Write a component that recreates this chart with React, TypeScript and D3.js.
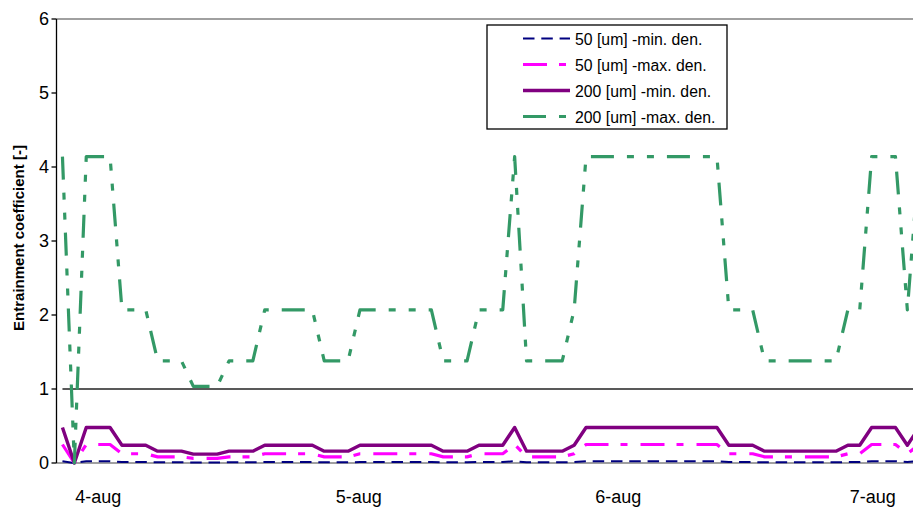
import React from "react";
import * as d3 from "d3";

// Hourly readings of the entrainment coefficient (73 samples)
const min50: number[] = [
  0.025, 0, 0.025, 0.025, 0.025, 0.013, 0.013, 0.013, 0.009, 0.009, 0.009, 0.007, 0.007, 0.007,
  0.009, 0.009, 0.009, 0.013, 0.013, 0.013, 0.013, 0.013, 0.009, 0.009, 0.009, 0.013, 0.013,
  0.013, 0.013, 0.013, 0.013, 0.013, 0.009, 0.009, 0.009, 0.013, 0.013, 0.013, 0.025, 0.009,
  0.009, 0.009, 0.009, 0.013, 0.025, 0.025, 0.025, 0.025, 0.025, 0.025, 0.025, 0.025, 0.025,
  0.025, 0.025, 0.025, 0.013, 0.013, 0.013, 0.009, 0.009, 0.009, 0.009, 0.009, 0.009, 0.009,
  0.013, 0.013, 0.025, 0.025, 0.025, 0.013, 0.025,
];
const max50: number[] = [
  0.25, 0, 0.25, 0.25, 0.25, 0.125, 0.125, 0.125, 0.083, 0.083, 0.083, 0.063, 0.063, 0.063,
  0.083, 0.083, 0.083, 0.125, 0.125, 0.125, 0.125, 0.125, 0.083, 0.083, 0.083, 0.125, 0.125,
  0.125, 0.125, 0.125, 0.125, 0.125, 0.083, 0.083, 0.083, 0.125, 0.125, 0.125, 0.25, 0.083,
  0.083, 0.083, 0.083, 0.125, 0.25, 0.25, 0.25, 0.25, 0.25, 0.25, 0.25, 0.25, 0.25, 0.25, 0.25,
  0.25, 0.125, 0.125, 0.125, 0.083, 0.083, 0.083, 0.083, 0.083, 0.083, 0.083, 0.125, 0.125,
  0.25, 0.25, 0.25, 0.125, 0.25,
];
const min200: number[] = [
  0.48, 0, 0.48, 0.48, 0.48, 0.24, 0.24, 0.24, 0.16, 0.16, 0.16, 0.12, 0.12, 0.12, 0.16, 0.16,
  0.16, 0.24, 0.24, 0.24, 0.24, 0.24, 0.16, 0.16, 0.16, 0.24, 0.24, 0.24, 0.24, 0.24, 0.24, 0.24,
  0.16, 0.16, 0.16, 0.24, 0.24, 0.24, 0.48, 0.16, 0.16, 0.16, 0.16, 0.24, 0.48, 0.48, 0.48, 0.48,
  0.48, 0.48, 0.48, 0.48, 0.48, 0.48, 0.48, 0.48, 0.24, 0.24, 0.24, 0.16, 0.16, 0.16, 0.16, 0.16,
  0.16, 0.16, 0.24, 0.24, 0.48, 0.48, 0.48, 0.24, 0.48,
];
const max200: number[] = [
  4.14, 0, 4.14, 4.14, 4.14, 2.07, 2.07, 2.07, 1.38, 1.38, 1.38, 1.035, 1.035, 1.035, 1.38, 1.38,
  1.38, 2.07, 2.07, 2.07, 2.07, 2.07, 1.38, 1.38, 1.38, 2.07, 2.07, 2.07, 2.07, 2.07, 2.07, 2.07,
  1.38, 1.38, 1.38, 2.07, 2.07, 2.07, 4.14, 1.38, 1.38, 1.38, 1.38, 2.07, 4.14, 4.14, 4.14, 4.14,
  4.14, 4.14, 4.14, 4.14, 4.14, 4.14, 4.14, 4.14, 2.07, 2.07, 2.07, 1.38, 1.38, 1.38, 1.38, 1.38,
  1.38, 1.38, 2.07, 2.07, 4.14, 4.14, 4.14, 2.07, 4.14,
];

// Reference level drawn across the series
const threshold = 1;

// Date labels and the sample position each one sits under
const dateLabels: string[] = ["4-aug", "5-aug", "6-aug", "7-aug"];
const datePositions: number[] = [3.0, 24.9, 46.7, 68.1];

const yTicks: number[] = [0, 1, 2, 3, 4, 5, 6];

const seriesNames: string[] = [
  "50 [um] -min. den.",
  "50 [um] -max. den.",
  "200 [um] -min. den.",
  "200 [um] -max. den.",
];

const FONT = "'Liberation Sans', Arial, sans-serif";

export default function App() {
  const width = 913;
  const height = 508;
  const axisX = 56.5;
  const top = 19;
  const bottom = 463;

  const n = max200.length;
  const step = 11.9;
  const x = d3
    .scaleLinear()
    .domain([0, n - 1])
    .range([axisX + step / 2, axisX + step / 2 + step * (n - 1)]);
  const y = d3.scaleLinear().domain([0, 6]).range([bottom, top]);

  const line = d3
    .line<number>()
    .x((_, i) => x(i))
    .y((d) => y(d));

  const styles = [
    { data: min50, color: "#000080", width: 2, dash: "11.5 6.8" },
    { data: max50, color: "#FF00FF", width: 3.2, dash: "24 12 7 13" },
    { data: min200, color: "#800080", width: 3.4, dash: "none" },
    { data: max200, color: "#339966", width: 3.2, dash: "23 13 7 13 7 13" },
  ];

  const legendX = 487;
  const legendY = 25;
  const legendRows = [38.5, 64.5, 90.5, 116.5];

  return (
    <svg
      width={width}
      height={height}
      style={{ position: "absolute", left: 0, top: 0, background: "#fff" }}
      fontFamily={FONT}
    >
      <defs>
        <clipPath id="plotClip">
          <rect x={axisX} y={0} width={width - axisX} height={bottom + 4} />
        </clipPath>
      </defs>

      {/* plot frame */}
      <line x1={axisX} x2={width} y1={top} y2={top} stroke="#808080" strokeWidth={1.3} />
      <line x1={axisX} x2={width} y1={bottom} y2={bottom} stroke="#808080" strokeWidth={1.6} />

      {/* reference level */}
      <line
        x1={x(0)}
        x2={width}
        y1={y(threshold)}
        y2={y(threshold)}
        stroke="#222"
        strokeWidth={1.6}
      />

      <g clipPath="url(#plotClip)">
        {styles.map((s, k) => (
          <path
            key={k}
            d={line(s.data) || ""}
            fill="none"
            stroke={s.color}
            strokeWidth={s.width}
            strokeDasharray={s.dash}
            strokeLinejoin="round"
          />
        ))}
      </g>

      {/* y axis */}
      <line x1={axisX} x2={axisX} y1={top} y2={bottom} stroke="#000" strokeWidth={1.3} />
      {yTicks.map((t) => (
        <g key={t}>
          <line x1={axisX - 5} x2={axisX} y1={y(t)} y2={y(t)} stroke="#000" strokeWidth={1.3} />
          <text
            x={49}
            y={y(t)}
            textAnchor="end"
            dominantBaseline="central"
            fontSize={18}
            fill="#000"
          >
            {t}
          </text>
        </g>
      ))}
      <text
        transform={`translate(18.5,238) rotate(-90)`}
        textAnchor="middle"
        dominantBaseline="central"
        fontSize={15}
        fontWeight="bold"
        fill="#000"
      >
        Entrainment coefficient [-]
      </text>

      {/* x axis labels */}
      {dateLabels.map((lab, i) => (
        <text key={lab} x={x(datePositions[i])} y={503} textAnchor="middle" fontSize={18} fill="#000">
          {lab}
        </text>
      ))}

      {/* legend */}
      <rect
        x={legendX}
        y={legendY}
        width={240}
        height={104}
        fill="#fff"
        stroke="#000"
        strokeWidth={1.3}
      />
      {styles.map((s, k) => (
        <g key={k}>
          <line
            x1={523}
            x2={570}
            y1={legendRows[k]}
            y2={legendRows[k]}
            stroke={s.color}
            strokeWidth={s.width}
            strokeDasharray={s.dash === "none" ? undefined : s.dash}
          />
          <text x={575} y={legendRows[k] + 1} dominantBaseline="central" fontSize={15.8} fill="#000">
            {seriesNames[k]}
          </text>
        </g>
      ))}
    </svg>
  );
}
